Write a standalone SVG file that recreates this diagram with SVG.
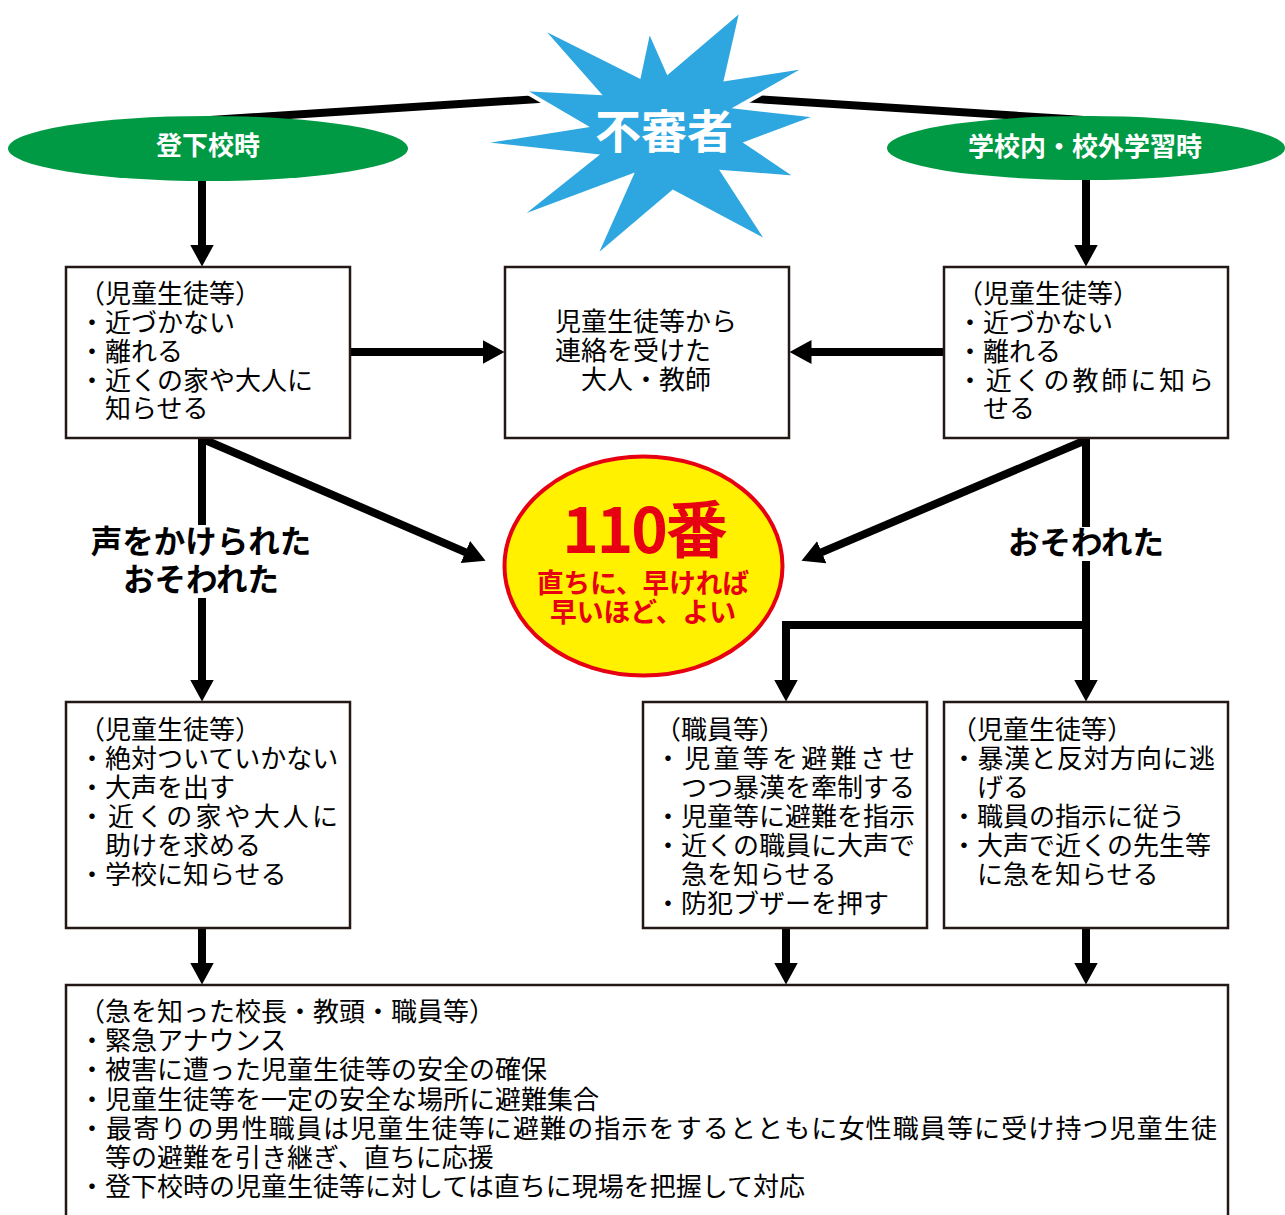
<svg xmlns="http://www.w3.org/2000/svg" width="1285" height="1215" viewBox="0 0 1285 1215">
<style>
.t{font-family:"Noto Sans CJK JP","Noto Sans",sans-serif;font-size:26px;fill:#000;}
.b{font-family:"Noto Sans CJK JP","Noto Sans",sans-serif;font-weight:bold;}
.box{fill:#fff;stroke:#231815;stroke-width:2.5;}
.ln{fill:none;stroke:#000;stroke-width:8;}
.lbl{font-size:31.5px;fill:#000;text-anchor:middle;}
.ell{fill:#009A44;}
.wt{fill:#fff;font-size:26px;text-anchor:middle;}
</style>
<defs>
<marker id="ah" markerUnits="userSpaceOnUse" viewBox="0 0 22 24" markerWidth="22" markerHeight="24" refX="0.5" refY="12" orient="auto">
<path d="M0,0 L22,12 L0,24 z" fill="#000"/>
</marker>
</defs>
<rect width="1285" height="1215" fill="#fff"/>
<g id="connectors">
<line class="ln" x1="210" y1="120" x2="570" y2="97"/>
<line class="ln" x1="740" y1="98" x2="1100" y2="121"/>
<line class="ln" x1="202" y1="175" x2="202" y2="245" marker-end="url(#ah)"/>
<line class="ln" x1="1086" y1="175" x2="1086" y2="245" marker-end="url(#ah)"/>
<line class="ln" x1="350" y1="352" x2="483" y2="352" marker-end="url(#ah)"/>
<line class="ln" x1="944" y1="352" x2="811" y2="352" marker-end="url(#ah)"/>
<line class="ln" x1="205" y1="440" x2="465.8" y2="552.3" marker-end="url(#ah)"/>
<line class="ln" x1="1086" y1="440" x2="821.3" y2="552.4" marker-end="url(#ah)"/>
<line class="ln" x1="202" y1="438" x2="202" y2="525"/>
<line class="ln" x1="202" y1="598" x2="202" y2="680" marker-end="url(#ah)"/>
<line class="ln" x1="1086" y1="438" x2="1086" y2="527"/>
<line class="ln" x1="1086" y1="561" x2="1086" y2="680" marker-end="url(#ah)"/>
<path class="ln" d="M1090,625 H786 V680" marker-end="url(#ah)"/>
<line class="ln" x1="202" y1="928" x2="202" y2="963" marker-end="url(#ah)"/>
<line class="ln" x1="786" y1="928" x2="786" y2="963" marker-end="url(#ah)"/>
<line class="ln" x1="1086" y1="928" x2="1086" y2="963" marker-end="url(#ah)"/>
<text class="b lbl" x="201" y="553">声をかけられた</text>
<text class="b lbl" x="201" y="591">おそわれた</text>
<text class="b lbl" x="1086" y="554">おそわれた</text>
</g>
<g id="starburst">
<polygon points="539,26 639,76 649,29 668,72 742,9 726,79 810,66 738,107 819,116 747,143 799,178 723,172 769,243 673,192 594,259 631,176 516,219 595,156 475,143 584,126 521,89 598,93" fill="#2EA7E0" stroke="#fff" stroke-width="4" stroke-linejoin="miter"/>
<text class="b" x="664" y="148" font-size="46" fill="#fff" text-anchor="middle">不審者</text>
</g>
<g id="ellipse-left">
<ellipse class="ell" cx="208" cy="148.5" rx="200" ry="32.5"/>
<text class="b wt" x="208" y="155">登下校時</text>
</g>
<g id="ellipse-right">
<ellipse class="ell" cx="1086" cy="148" rx="199" ry="32"/>
<text class="b wt" x="1085" y="156">学校内・校外学習時</text>
</g>
<g id="box1">
<rect class="box" x="66" y="267" width="284" height="171"/>
<text class="t" x="79" y="303">（児童生徒等）</text>
<text class="t" x="79" y="332">・近づかない</text>
<text class="t" x="79" y="361">・離れる</text>
<text class="t" x="79" y="390">・近くの家や大人に</text>
<text class="t" x="105" y="418">知らせる</text>
</g>
<g id="box2">
<rect class="box" x="505" y="267" width="284" height="171"/>
<text class="t" x="555" y="331">児童生徒等から</text>
<text class="t" x="555" y="360">連絡を受けた</text>
<text class="t" x="581" y="389">大人・教師</text>
</g>
<g id="box3">
<rect class="box" x="944" y="267" width="284" height="171"/>
<text class="t" x="957" y="303">（児童生徒等）</text>
<text class="t" x="957" y="332">・近づかない</text>
<text class="t" x="957" y="361">・離れる</text>
<text class="t" x="957" y="390" textLength="257" lengthAdjust="spacing">・近くの教師に知ら</text>
<text class="t" x="983" y="418">せる</text>
</g>
<g id="oval-110">
<ellipse cx="643.5" cy="566" rx="139" ry="109.5" fill="#FFF100" stroke="#E60012" stroke-width="4"/>
<text class="b" x="644" y="553" font-size="62" fill="#E60012" text-anchor="middle" letter-spacing="-2">110番</text>
<text class="b" x="643" y="593" font-size="27" fill="#E60012" text-anchor="middle" textLength="212" lengthAdjust="spacingAndGlyphs">直ちに、早ければ</text>
<text class="b" x="643" y="622" font-size="27" fill="#E60012" text-anchor="middle" textLength="186" lengthAdjust="spacingAndGlyphs">早いほど、よい</text>
</g>
<g id="box4">
<rect class="box" x="66" y="702" width="284" height="226"/>
<text class="t" x="79" y="739">（児童生徒等）</text>
<text class="t" x="79" y="768">・絶対ついていかない</text>
<text class="t" x="79" y="797">・大声を出す</text>
<text class="t" x="79" y="826" textLength="259" lengthAdjust="spacing">・近くの家や大人に</text>
<text class="t" x="105" y="855">助けを求める</text>
<text class="t" x="79" y="884">・学校に知らせる</text>
</g>
<g id="box5">
<rect class="box" x="643" y="702" width="284" height="226"/>
<text class="t" x="655" y="739">（職員等）</text>
<text class="t" x="655" y="768" textLength="260" lengthAdjust="spacing">・児童等を避難させ</text>
<text class="t" x="681" y="797">つつ暴漢を牽制する</text>
<text class="t" x="655" y="826">・児童等に避難を指示</text>
<text class="t" x="655" y="855">・近くの職員に大声で</text>
<text class="t" x="681" y="884">急を知らせる</text>
<text class="t" x="655" y="913">・防犯ブザーを押す</text>
</g>
<g id="box6">
<rect class="box" x="944" y="702" width="284" height="226"/>
<text class="t" x="951" y="739">（児童生徒等）</text>
<text class="t" x="951" y="768" textLength="264" lengthAdjust="spacing">・暴漢と反対方向に逃</text>
<text class="t" x="977" y="797">げる</text>
<text class="t" x="951" y="826">・職員の指示に従う</text>
<text class="t" x="951" y="855">・大声で近くの先生等</text>
<text class="t" x="977" y="884">に急を知らせる</text>
</g>
<g id="box7">
<rect class="box" x="66" y="985" width="1162" height="245"/>
<text class="t" x="79" y="1021">（急を知った校長・教頭・職員等）</text>
<text class="t" x="79" y="1050">・緊急アナウンス</text>
<text class="t" x="79" y="1079">・被害に遭った児童生徒等の安全の確保</text>
<text class="t" x="79" y="1109">・児童生徒等を一定の安全な場所に避難集合</text>
<text class="t" x="79" y="1138" textLength="1138" lengthAdjust="spacing">・最寄りの男性職員は児童生徒等に避難の指示をするとともに女性職員等に受け持つ児童生徒</text>
<text class="t" x="105" y="1167">等の避難を引き継ぎ、直ちに応援</text>
<text class="t" x="79" y="1196">・登下校時の児童生徒等に対しては直ちに現場を把握して対応</text>
</g>
</svg>
